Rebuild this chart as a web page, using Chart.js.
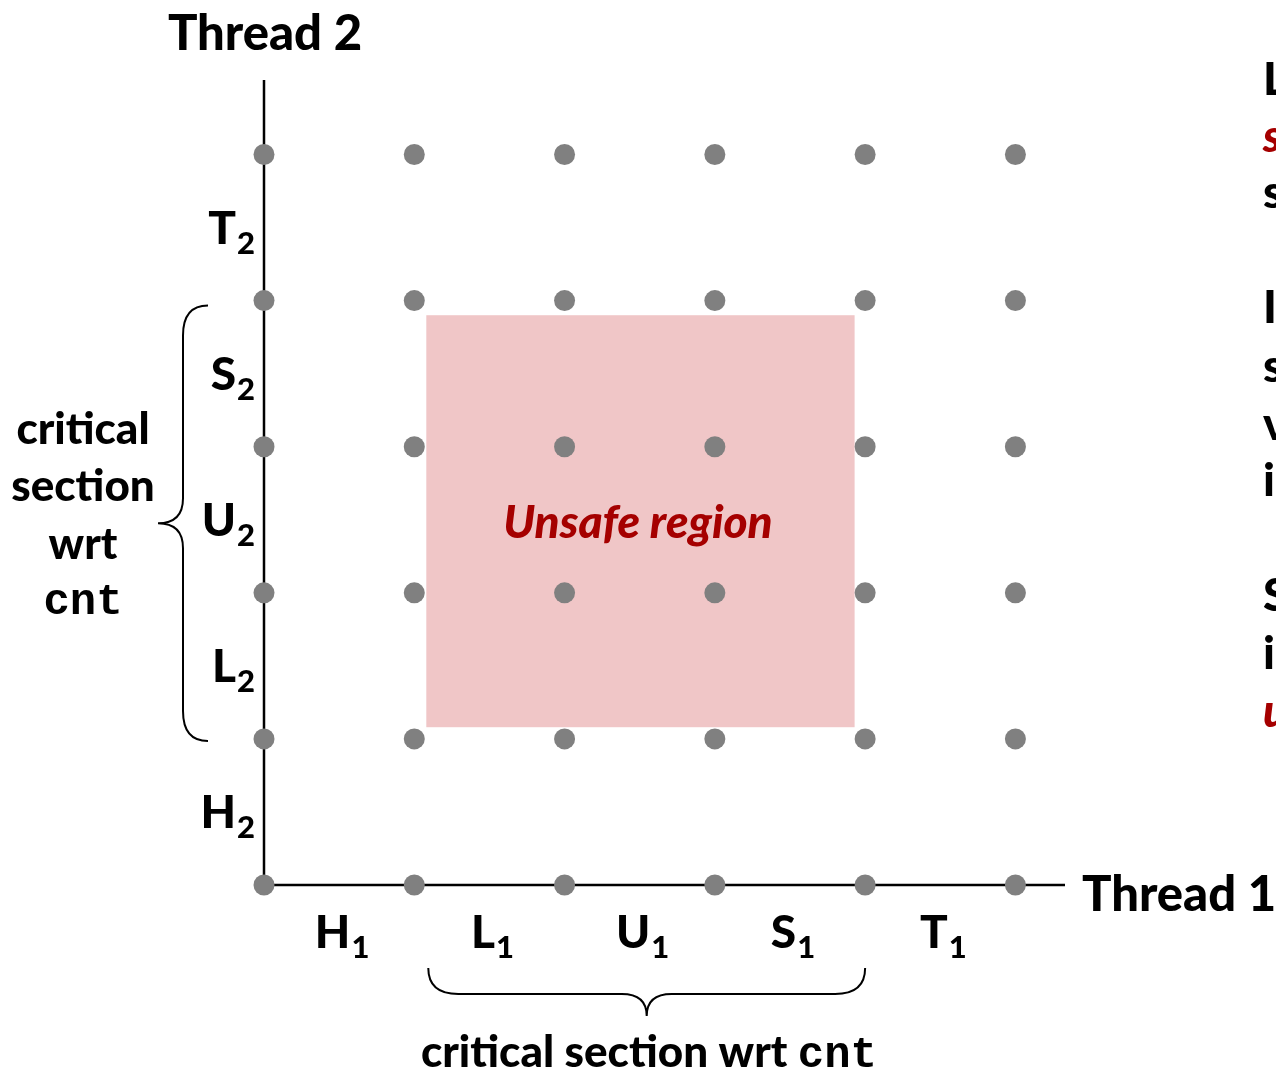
<!DOCTYPE html>
<html>
<head>
<meta charset="utf-8">
<script src="https://cdn.jsdelivr.net/npm/chart.js@4/dist/chart.umd.min.js"></script>
<style>
  html, body { margin: 0; padding: 0; background: #fff; overflow: hidden; }
</style>
</head>
<body>
<canvas id="progress" width="1276" height="1069"></canvas>
<script>
// progress graph: instruction steps of each thread
const THREAD1_STEPS = [0, 1, 2, 3, 4, 5];
const THREAD2_STEPS = [0, 1, 2, 3, 4, 5];
const THREAD1_LABELS = ["H", "L", "U", "S", "T"];
const THREAD2_LABELS = ["H", "L", "U", "S", "T"];
const UNSAFE_X = [1.08, 3.93];
const UNSAFE_Y = [1.08, 3.9];
const CRIT_RANGE = [1, 4];
const X_MAX = 5.33;
const Y_MAX = 5.51;

const FONT = "Lato";
const W = "900";
const MONO = "'Liberation Mono', 'Courier New', monospace";
const DOT_COLOR = "#808080";
const RED = "#a50000";

const points = [];
THREAD2_STEPS.forEach((y) => {
    THREAD1_STEPS.forEach((x) => points.push({ x: x, y: y }));
});

function subLabel(ctx, letter, sub, cx, cy, align) {
    ctx.font = W + " 46px " + FONT;
    const w1 = ctx.measureText(letter).width;
    ctx.font = W + " 31px " + FONT;
    const w2 = ctx.measureText(sub).width;
    const total = w1 + w2 + 1;
    let left = cx - total / 2;
    if (align === "right") left = cx - total;
    ctx.textAlign = "left";
    ctx.textBaseline = "alphabetic";
    ctx.font = W + " 46px " + FONT;
    ctx.fillText(letter, left, cy + 16);
    ctx.font = W + " 31px " + FONT;
    ctx.fillText(sub, left + w1 + 1, cy + 26);
}

const progressPlugin = {
    id: "progress",
    beforeDatasetsDraw(chart) {
        const { ctx, scales: { x, y } } = chart;
        ctx.save();
        // unsafe region
        ctx.fillStyle = "#f0c6c7";
        const x0 = x.getPixelForValue(UNSAFE_X[0]);
        const x1 = x.getPixelForValue(UNSAFE_X[1]);
        const y0 = y.getPixelForValue(UNSAFE_Y[1]);
        const y1 = y.getPixelForValue(UNSAFE_Y[0]);
        ctx.fillRect(x0, y0, x1 - x0, y1 - y0);
        // axes
        ctx.strokeStyle = "#000";
        ctx.lineWidth = 2.5;
        ctx.beginPath();
        ctx.moveTo(x.getPixelForValue(0), y.getPixelForValue(Y_MAX));
        ctx.lineTo(x.getPixelForValue(0), y.getPixelForValue(0));
        ctx.lineTo(x.getPixelForValue(X_MAX), y.getPixelForValue(0));
        ctx.stroke();
        ctx.restore();
    },
    afterDatasetsDraw(chart) {
        const { ctx, scales: { x, y } } = chart;
        ctx.save();
        ctx.fillStyle = "#000";

        // step labels
        THREAD1_LABELS.forEach((l, i) => {
            subLabel(ctx, l, "1", x.getPixelForValue(i + 0.5) + 3, 932, "center");
        });
        THREAD2_LABELS.forEach((l, i) => {
            subLabel(ctx, l, "2", 255, y.getPixelForValue(i + 0.5), "right");
        });

        // axis titles
        ctx.font = W + " 49px " + FONT;
        ctx.textBaseline = "middle";
        ctx.textAlign = "center";
        ctx.fillText("Thread 2", 265, 34);
        ctx.textAlign = "left";
        ctx.fillText("Thread 1", 1082, 895);

        // unsafe region label
        ctx.fillStyle = RED;
        ctx.font = "italic " + W + " 46px " + FONT;
        ctx.textAlign = "center";
        ctx.fillText("Unsafe region", 638, 523);

        // left critical section label
        ctx.fillStyle = "#000";
        ctx.font = W + " 44px " + FONT;
        ctx.fillText("critical", 83, 430);
        ctx.fillText("section", 83, 487);
        ctx.fillText("wrt", 83, 545);
        ctx.textBaseline = "alphabetic";
        ctx.font = "bold 44px " + MONO;
        ctx.fillText("cnt", 83, 614);

        // bottom critical section label
        ctx.font = W + " 44px " + FONT;
        const t1 = "critical section wrt ";
        const w1 = ctx.measureText(t1).width;
        ctx.font = "bold 44px " + MONO;
        const w2 = ctx.measureText("cnt").width;
        let lx = 649 - (w1 + w2) / 2;
        ctx.textAlign = "left";
        ctx.font = W + " 44px " + FONT;
        ctx.fillText(t1, lx, 1067);
        ctx.font = "bold 44px " + MONO;
        ctx.fillText("cnt", lx + w1, 1067);

        // braces
        ctx.strokeStyle = "#000";
        ctx.lineWidth = 2;
        const by0 = y.getPixelForValue(CRIT_RANGE[1]) + 5;
        const by1 = y.getPixelForValue(CRIT_RANGE[0]) + 2;
        const bmid = (by0 + by1) / 2;
        const bx = 183, tip = 208, pt = 158;
        ctx.beginPath();
        ctx.moveTo(tip, by0);
        ctx.quadraticCurveTo(bx, by0, bx, by0 + 30);
        ctx.lineTo(bx, bmid - 25);
        ctx.quadraticCurveTo(bx, bmid, pt, bmid);
        ctx.quadraticCurveTo(bx, bmid, bx, bmid + 25);
        ctx.lineTo(bx, by1 - 30);
        ctx.quadraticCurveTo(bx, by1, tip, by1);
        ctx.stroke();

        const bxa = x.getPixelForValue(CRIT_RANGE[0]) + 14;
        const bxb = x.getPixelForValue(CRIT_RANGE[1]);
        const xm = (bxa + bxb) / 2;
        const top = 968, by = 994, pb = 1016;
        ctx.beginPath();
        ctx.moveTo(bxa, top);
        ctx.quadraticCurveTo(bxa, by, bxa + 30, by);
        ctx.lineTo(xm - 25, by);
        ctx.quadraticCurveTo(xm, by, xm, pb);
        ctx.quadraticCurveTo(xm, by, xm + 25, by);
        ctx.lineTo(bxb - 30, by);
        ctx.quadraticCurveTo(bxb, by, bxb, top);
        ctx.stroke();

        // right-hand notes (clipped by the slide edge)
        const notes = [
            [["L, U, and S form a ", false], ["critical", true]],
            [["section", true], [" with respect to the", false]],
            [["shared variable cnt", false]],
            null,
            [["Instructions in critical", false]],
            [["sections (wrt some shared", false]],
            [["variable) should not be", false]],
            [["interleaved", false]],
            null,
            [["Sets of states where such", false]],
            [["interleaving occurs form", false]],
            [["unsafe regions", true]]
        ];
        const noteY = [80, 137, 193, 0, 308, 367, 425, 481, 0, 596, 654, 712];
        ctx.textAlign = "left";
        ctx.textBaseline = "middle";
        notes.forEach((line, i) => {
            if (!line) return;
            let nx = 1263;
            line.forEach(([txt, red]) => {
                ctx.font = (red ? "italic " : "") + W + " 46px " + FONT;
                ctx.fillStyle = red ? RED : "#000";
                ctx.fillText(txt, nx, noteY[i]);
                nx += ctx.measureText(txt).width;
            });
        });
        ctx.restore();
    }
};

new Chart(document.getElementById("progress"), {
    type: "scatter",
    data: {
        datasets: [{
            data: points,
            clip: false,
            pointRadius: 10.5,
            pointHoverRadius: 10.5,
            pointBackgroundColor: DOT_COLOR,
            pointBorderWidth: 0,
            borderWidth: 0
        }]
    },
    options: {
        responsive: false,
        animation: false,
        events: [],
        layout: { padding: { left: 264, right: 211, top: 80, bottom: 184 } },
        plugins: { legend: { display: false }, tooltip: { enabled: false } },
        scales: {
            x: { type: "linear", min: 0, max: X_MAX, display: false },
            y: { type: "linear", min: 0, max: Y_MAX, display: false }
        }
    },
    plugins: [progressPlugin]
});
</script>
</body>
</html>
